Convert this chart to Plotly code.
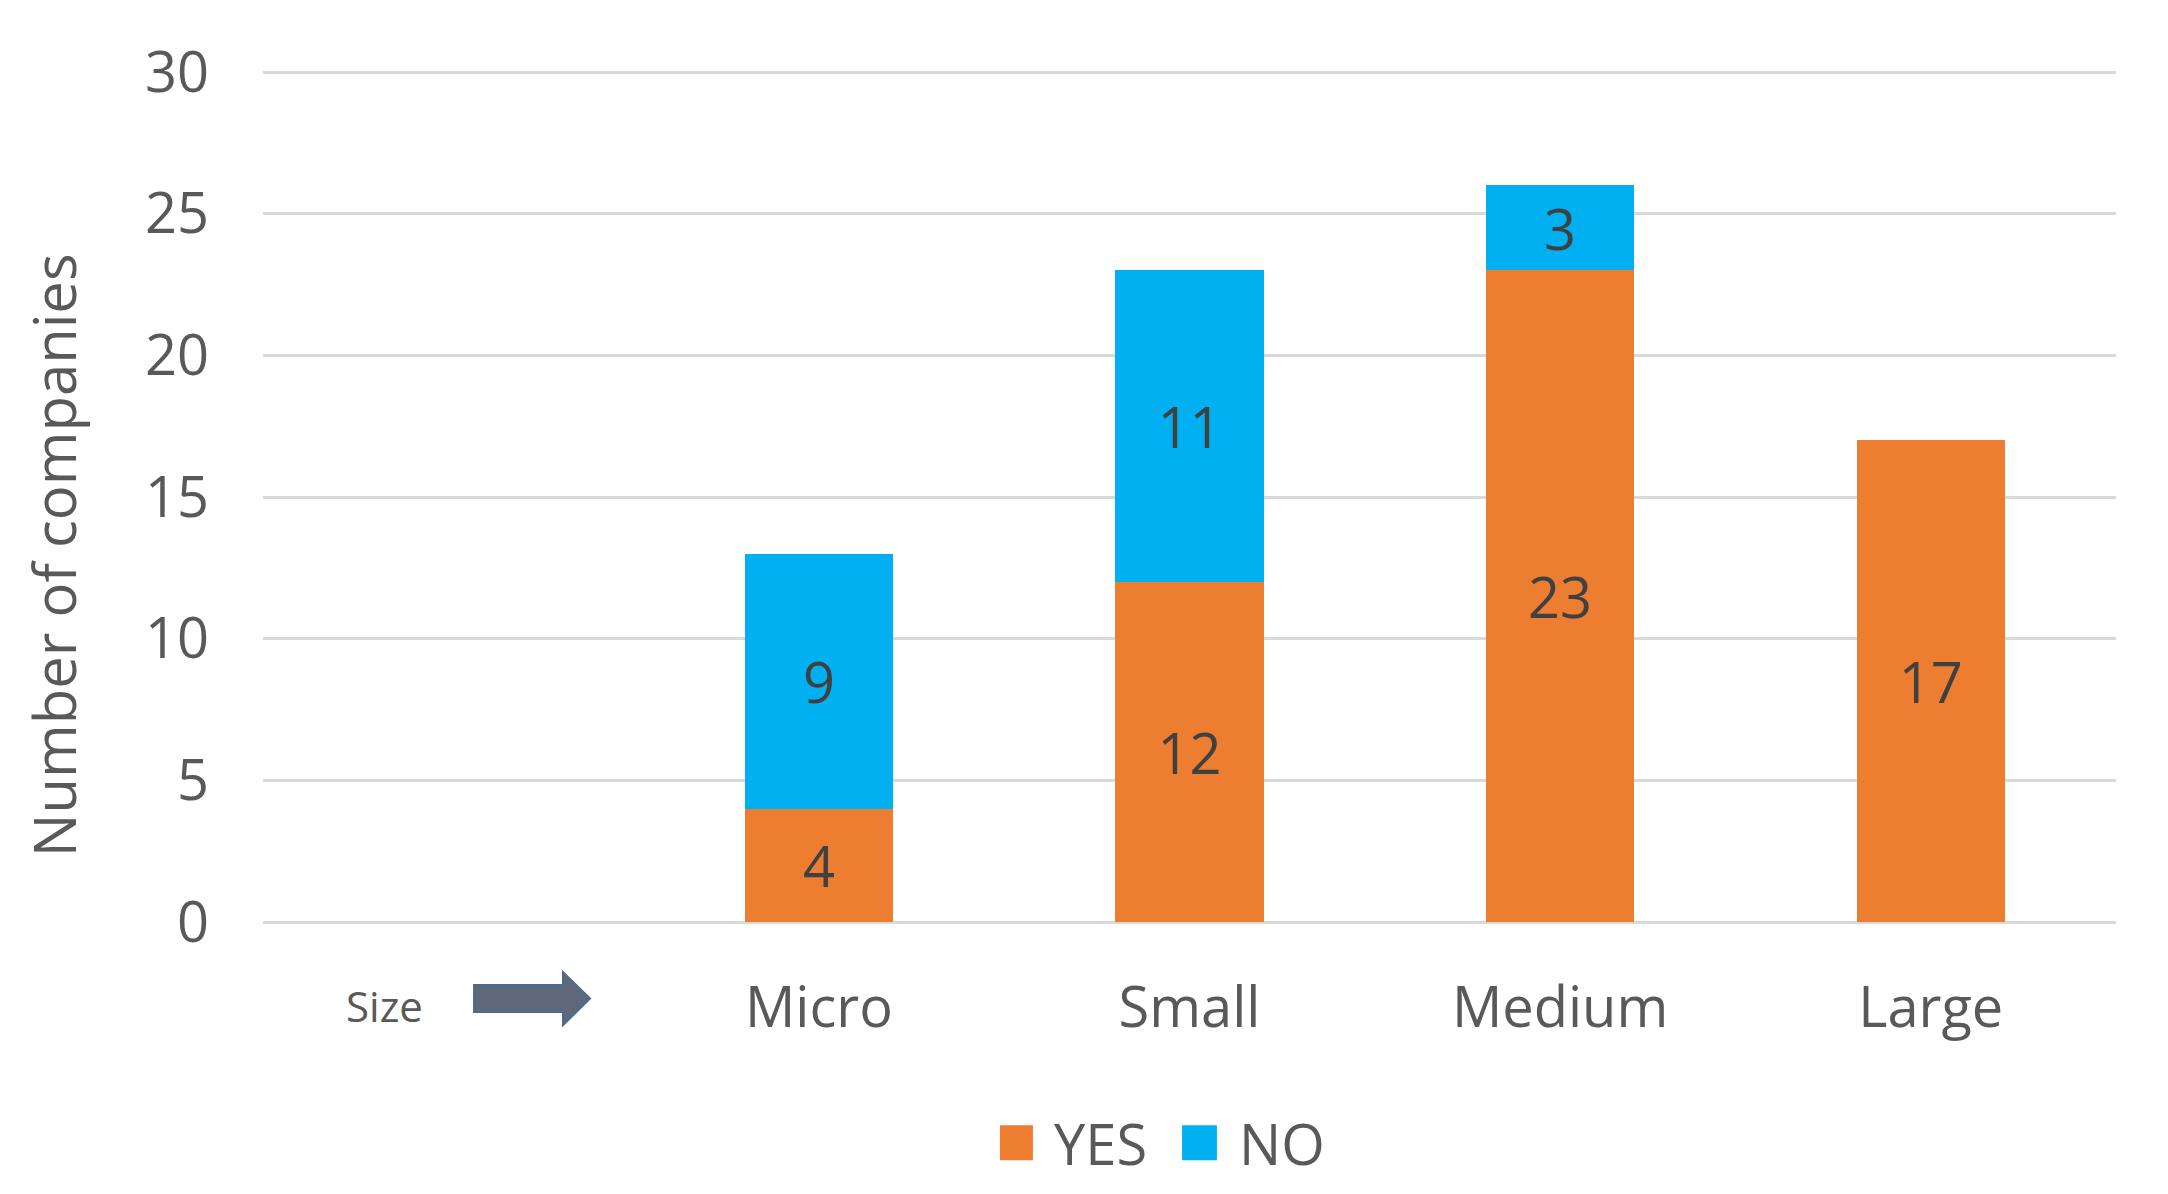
import plotly.graph_objects as go

# ---- data ----
categories = ["  ", "Micro", "Small", "Medium", "Large"]
yes_values = [None, 4, 12, 23, 17]
no_values = [None, 9, 11, 3, None]
series_names = ["YES", "NO"]
series_colors = ["#ED7D31", "#00B0F0"]
y_ticks = [0, 5, 10, 15, 20, 25, 30]

FONT = "Open Sans"
AXIS_COLOR = "#595959"
LABEL_COLOR = "#404040"


def labels(vals):
    return ["" if v is None else str(v) for v in vals]


fig = go.Figure()
for name, vals, col in zip(series_names, [yes_values, no_values], series_colors):
    fig.add_trace(go.Bar(
        name=name, x=categories, y=vals, marker_color=col,
        marker_line_width=0,
        text=labels(vals), textposition="inside", insidetextanchor="middle",
        textangle=0,
        textfont=dict(family=FONT, size=56, color=LABEL_COLOR),
        showlegend=False,
    ))

fig.update_layout(
    width=2168, height=1194,
    barmode="stack", bargap=0.6,
    paper_bgcolor="white", plot_bgcolor="white",
    margin=dict(l=255, r=60, t=63, b=280, autoexpand=False),
    font=dict(family=FONT, color=AXIS_COLOR),
)
fig.update_xaxes(
    type="category", showgrid=False, showline=False, zeroline=False,
    ticks="", tickfont=dict(family=FONT, size=56, color=AXIS_COLOR),
    ticklabelstandoff=48, automargin=False,
)
fig.update_yaxes(
    range=[0, 30.04], tickvals=y_ticks, showgrid=True, gridcolor="#D9D9D9",
    gridwidth=3, zeroline=True, zerolinecolor="#D9D9D9", zerolinewidth=3,
    showline=False, ticks="",
    tickfont=dict(family=FONT, size=56, color=AXIS_COLOR),
    ticklabelstandoff=53, automargin=False,
)

# y-axis title (placed lower than centre, as in the original)
fig.add_annotation(text="Number of companies", xref="paper", yref="paper",
                   x=-0.1130, y=0.4306, textangle=-90, showarrow=False,
                   xanchor="center", yanchor="middle",
                   font=dict(family=FONT, size=58, color=AXIS_COLOR))

# "Size" label with block arrow under the empty first category
fig.add_annotation(text="Size", xref="paper", yref="paper", x=0.0653, y=-0.0976,
                   showarrow=False, xanchor="center", yanchor="middle",
                   font=dict(family=FONT, size=42, color=AXIS_COLOR))
fig.add_shape(
    type="path", xref="paper", yref="paper",
    path=("M 0.1139,-0.0741 L 0.1619,-0.0741 L 0.1619,-0.0588 L 0.1765,-0.09 "
          "L 0.1619,-0.1212 L 0.1619,-0.1059 L 0.1139,-0.1059 Z"),
    fillcolor="#5F6878", line=dict(color="#4A6A94", width=2),
)

# legend (drawn manually for large swatches)
legend_items = [(0.3977, 0.4155, 0.4258), (0.4960, 0.5148, 0.5256)]
for (x0, x1, xt), name, col in zip(legend_items, series_names, series_colors):
    fig.add_shape(type="rect", xref="paper", yref="paper",
                  x0=x0, x1=x1, y0=-0.28, y1=-0.2388,
                  fillcolor=col, line_width=0)
    fig.add_annotation(text=name, xref="paper", yref="paper", x=xt, y=-0.26,
                       showarrow=False, xanchor="left", yanchor="middle",
                       font=dict(family=FONT, size=56, color=AXIS_COLOR))

fig.write_html("out.html")
